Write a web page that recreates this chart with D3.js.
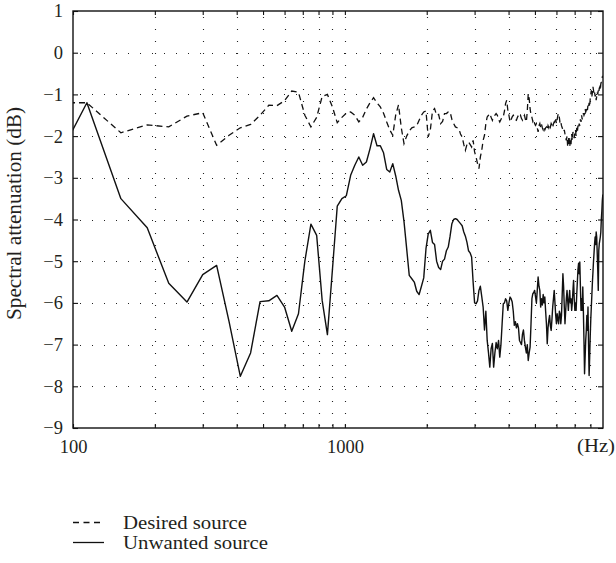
<!DOCTYPE html>
<html><head><meta charset="utf-8">
<script src="https://cdn.jsdelivr.net/npm/d3@7"></script>
<style>body{margin:0;background:#fff}svg text{font-family:"Liberation Serif","Times New Roman",serif;fill:#231f20}</style>
</head><body><svg id="c" width="616" height="563"></svg>
<script>
// FFT bins: frequency of bin k = k * binWidthHz, first bin stored = firstBin
const binWidthHz = 37.5;
const firstBin = 2;

const desiredSource = [
-1.2,-1.2,-1.92,-1.73,-1.78,-1.52,-1.44,-2.22,-1.98,-1.8,-1.72,-1.5,-1.26,-1.27,-1.15,-0.92,-0.95,-1.5,-1.78,-1.55,-1.05,-1.0,-1.3,-1.68,-1.55,-1.45,-1.42,-1.5,-1.66,-1.55,-1.35,-1.2,-1.08,-1.2,-1.3,-1.45,-1.66,-1.85,-1.98,-1.5,-1.25,
-1.8,-2.18,-2.0,-1.88,-1.8,-1.78,-1.75,-1.62,-1.5,-1.42,-1.4,-2.02,-1.85,-1.4,-1.34,-1.5,-1.48,-1.7,-1.65,-1.46,-1.46,-1.42,-1.42,-1.6,-1.7,-1.78,-1.8,-1.82,-1.95,-2.02,-2.2,-2.34,-2.2,-2.14,-2.2,-2.26,-2.1,-2.38,-2.5,-2.66,-2.78,
-2.5,-2.34,-2.1,-1.98,-1.7,-1.54,-1.5,-1.46,-1.55,-1.62,
-1.52,-1.5,-1.46,-1.5,-1.6,-1.66,-1.6,-1.54,-1.54,-1.4,
-1.22,-1.14,-1.38,-1.5,-1.66,-1.6,-1.54,-1.5,-1.55,-1.6,
-1.62,-1.55,-1.5,-1.54,-1.5,-1.58,-1.62,-1.55,-1.5,-1.6,
-1.66,-1.4,-0.98,-1.1,-1.34,-1.5,-1.55,-1.65,-1.6,-1.7,
-1.74,-1.7,-1.8,-1.9,-1.75,-1.7,-1.8,-1.72,-1.8,-1.85,
-1.78,-1.85,-1.8,-1.78,-1.85,-1.75,-1.8,-1.72,-1.78,-1.7,
-1.74,-1.8,-1.7,-1.66,-1.72,-1.6,-1.7,-1.6,-1.5,-1.46,
-1.55,-1.7,-1.66,-1.75,-1.8,-1.85,-1.9,-1.85,-1.95,-2.05,
-2.1,-2.0,-2.26,-2.15,-2.0,-2.26,-2.1,-2.2,-1.95,-2.1,
-1.9,-2.0,-2.05,-1.9,-1.85,-2.0,-1.8,-1.9,-1.75,-1.82,
-1.7,-1.75,-1.6,-1.66,-1.5,-1.6,-1.55,-1.45,-1.5,-1.46,
-1.35,-1.42,-1.38,-1.3,-1.38,-1.25,-1.3,-1.2,-1.3,-1.1,
-1.0,-0.9,-1.05,-0.95,-0.82,-0.9,-1.0,-0.95,-1.05,-1.0,
-1.14,-1.05,-0.95,-1.0,-0.9,-0.95,-0.85,-0.82,-0.9,-0.75,
-0.7,-0.62,-0.58,-0.6
];

const unwantedSource = [
-3.4,-1.2,-3.5,-4.2,-5.53,-5.98,-5.32,-5.1,-6.45,-7.76,-7.2,-5.97,-5.95,-5.82,-6.1,-6.68,-6.26,-5.0,-4.11,-4.38,-5.94,-6.76,-5.2,-3.68,-3.5,-3.43,-2.94,-2.7,-2.5,-2.7,-2.62,-2.3,-1.94,-2.23,-2.23,-2.4,-2.8,-2.86,-2.66,-2.95,-3.3,
-3.54,-4.05,-4.7,-5.34,-5.42,-5.5,-5.72,-5.8,-5.6,-5.4,-4.7,-4.35,-4.26,-4.55,-4.6,-5.0,-5.15,-5.2,-5.0,-4.95,-4.75,-4.66,-4.4,-4.1,-4.0,-3.98,-4.0,-4.05,-4.1,-4.15,-4.3,-4.4,-4.55,-4.75,-4.8,-4.9,-5.5,-6.0,-6.02,-5.95,-5.7,
-5.6,-5.85,-6.1,-6.65,-6.2,-6.9,-7.2,-7.54,-7.1,-6.97,
-7.54,-7.2,-6.95,-7.1,-6.9,-7.3,-7.0,-6.5,-6.02,-6.0,
-5.9,-5.95,-6.18,-6.0,-5.86,-5.9,-5.98,-6.2,-6.54,-6.45,
-6.6,-6.5,-6.6,-6.9,-6.95,-7.0,-6.75,-6.65,-6.9,-7.06,
-7.2,-7.0,-7.38,-7.2,-7.06,-6.5,-5.9,-5.78,-5.75,-5.7,
-5.85,-6.0,-5.7,-5.38,-5.6,-5.7,-6.1,-5.9,-6.05,-5.8,
-6.0,-5.86,-6.2,-6.5,-6.98,-6.6,-6.42,-6.3,-6.55,-6.66,
-6.4,-6.1,-5.9,-5.7,-6.0,-6.3,-6.5,-6.26,-6.4,-6.5,
-6.2,-6.26,-6.5,-6.3,-5.8,-5.3,-5.6,-6.1,-6.5,-6.2,
-5.9,-5.7,-5.95,-6.18,-5.9,-5.7,-6.0,-5.9,-6.18,-6.0,
-5.7,-5.46,-5.9,-6.18,-6.0,-6.18,-5.8,-5.5,-5.2,-5.05,
-5.3,-5.02,-5.6,-6.18,-5.9,-6.18,-5.62,-6.2,-6.9,-7.7,
-7.3,-6.9,-6.66,-6.3,-6.66,-6.1,-7.0,-7.74,-7.3,-6.8,
-6.4,-6.1,-5.8,-5.5,-5.26,-5.0,-4.8,-4.58,-4.42,-4.6,
-4.3,-4.42,-4.8,-5.2,-5.7,-4.74,-4.58,-4.5,-4.42,-4.3,
-4.0,-3.8,-3.54,-3.4
];

const yTickValues = [-9,-8,-7,-6,-5,-4,-3,-2,-1,0,1];
const xMinorTicks = [200,300,400,500,600,700,800,900,2000,3000,4000,5000,6000,7000,8000];
const xLabelTicks = [100,1000];
const xUnitLabel = "(Hz)";
const yAxisTitle = "Spectral attenuation (dB)";
const legendLabels = ["Desired source","Unwanted source"];

const svg = d3.select("#c");
const L = 73, R = 603, T = 11, B = 428;
const x = d3.scaleLog().domain([100, 8900]).range([L, R]);
const y = d3.scaleLinear().domain([-9, 1]).range([B, T]);

const toPts = arr => arr.map((v, i) => ({f: (i + firstBin) * binWidthHz, v}));

svg.append("clipPath").attr("id","clip").append("rect")
  .attr("x", L).attr("y", T).attr("width", R - L).attr("height", B - T);

// dotted grid
const grid = svg.append("g").attr("stroke","#222").attr("stroke-width",1.1)
  .attr("stroke-dasharray","1,11").attr("fill","none");
yTickValues.filter(d => d > -9 && d < 1).forEach(d => {
  grid.append("line").attr("x1", L + 1).attr("x2", R).attr("y1", Math.round(y(d)) + 0.5).attr("y2", Math.round(y(d)) + 0.5)
    .attr("stroke-dashoffset", -6);
});
xMinorTicks.concat([1000]).forEach(f => {
  grid.append("line").attr("x1", Math.round(x(f)) + 0.5).attr("x2", Math.round(x(f)) + 0.5).attr("y1", T).attr("y2", B)
    .attr("stroke-dashoffset", -6);
});

// curves
const line = d3.line().x(d => x(d.f)).y(d => y(d.v));
const gl = svg.append("g").attr("clip-path","url(#clip)");
gl.append("path").datum(toPts(desiredSource)).attr("d", line)
  .attr("fill","none").attr("stroke","#111").attr("stroke-width",1.3).attr("stroke-dasharray","6,4");
gl.append("path").datum(toPts(unwantedSource)).attr("d", line)
  .attr("fill","none").attr("stroke","#111").attr("stroke-width",1.4).attr("stroke-linejoin","round");

// axes with inward ticks
const fmt = d3.format("");
const axL = d3.axisLeft(y).tickValues(yTickValues).tickSize(-5).tickSizeOuter(0).tickPadding(10).tickFormat(d => fmt(d));
const gL = svg.append("g").attr("transform", `translate(${L},0)`).call(axL);
const axR = d3.axisRight(y).tickValues(yTickValues).tickSize(-5).tickSizeOuter(0).tickFormat("");
const gR = svg.append("g").attr("transform", `translate(${R},0)`).call(axR);
const axB = d3.axisBottom(x).tickValues(xLabelTicks.concat(xMinorTicks)).tickSize(-4).tickSizeOuter(0).tickPadding(12)
  .tickFormat(d => xLabelTicks.includes(d) ? String(d) : "");
const gB = svg.append("g").attr("transform", `translate(0,${B})`).call(axB);
const axT = d3.axisTop(x).tickValues(xLabelTicks.concat(xMinorTicks)).tickSize(-4).tickSizeOuter(0).tickFormat("");
const gT = svg.append("g").attr("transform", `translate(0,${T})`).call(axT);
[gL,gR,gB,gT].forEach(g => {
  g.select(".domain").remove();
  g.selectAll(".tick line").attr("stroke","#111").attr("stroke-width",1.1);
  g.selectAll("text").attr("font-size",18.5).attr("font-family",'"Liberation Serif",serif').attr("fill","#231f20");
});
gB.selectAll(".tick text").attr("dy","0.71em");

// frame
svg.append("rect").attr("x", L).attr("y", T).attr("width", R - L).attr("height", B - T)
  .attr("fill","none").attr("stroke","#111").attr("stroke-width",1.4);

// x unit
svg.append("text").attr("x", 577).attr("y", 452).attr("font-size",19.5)
  .attr("textLength", 38).attr("lengthAdjust","spacingAndGlyphs").text(xUnitLabel);

// y title
svg.append("text").attr("transform", `translate(21,213.5) rotate(-90)`)
  .attr("text-anchor","middle").attr("font-size",20)
  .attr("textLength", 213).attr("lengthAdjust","spacingAndGlyphs").text(yAxisTitle);

// legend
const legendWidths = [124, 145];
const lg = svg.append("g");
legendLabels.forEach((lab, i) => {
  const yy = 522.5 + i * 20;
  lg.append("line").attr("x1", 73).attr("x2", 104).attr("y1", yy).attr("y2", yy)
    .attr("stroke","#111").attr("stroke-width",1.3).attr("stroke-dasharray", i === 0 ? "6,4.5" : null);
  lg.append("text").attr("x", 123).attr("y", yy + 6.5).attr("font-size",18)
    .attr("textLength", legendWidths[i]).attr("lengthAdjust","spacingAndGlyphs").text(lab);
});
</script></body></html>
